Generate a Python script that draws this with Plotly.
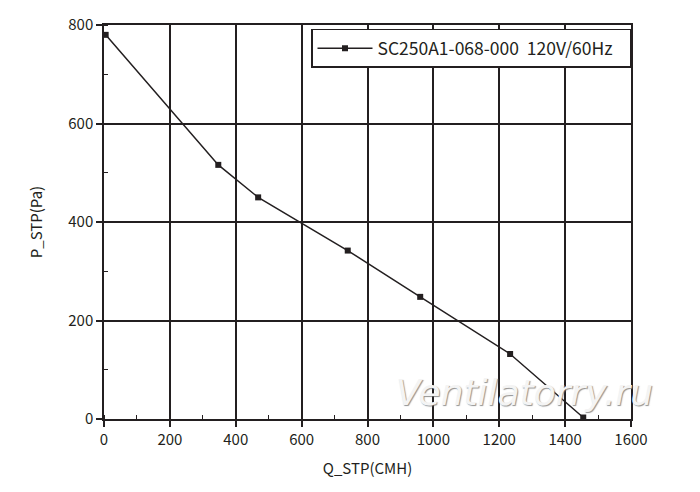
import plotly.graph_objects as go

q_cmh = [5, 347, 468, 740, 960, 1233, 1455]
p_pa = [780, 516, 450, 342, 248, 132, 3]
series_name = "SC250A1-068-000\u00a0\u00a0120V/60Hz\u00a0\u00a0\u00a0"
x_ticks = [0, 200, 400, 600, 800, 1000, 1200, 1400, 1600]
y_ticks = [0, 200, 400, 600, 800]

FONT = "Noto Sans CJK SC"
INK = "#231f20"

fig = go.Figure()
fig.add_trace(go.Scatter(
    x=q_cmh, y=p_pa, mode="lines+markers", name=series_name,
    line=dict(color=INK, width=1.5),
    marker=dict(symbol="square", size=6, color=INK),
))

fig.add_annotation(
    x=0.797, y=0.067, xref="paper", yref="paper", xanchor="center", yanchor="middle",
    text="Ventilatorry.ru", showarrow=False,
    font=dict(family="DejaVu Sans", size=36, color="#f4f4f4", style="italic",
              shadow="1px 1px 1px rgba(110,110,110,0.75)"),
)

axis_common = dict(
    showline=True, linecolor=INK, linewidth=1.5, mirror=True,
    showgrid=True, gridcolor=INK, gridwidth=1.8,
    ticks="outside", ticklen=6, tickwidth=1.5, tickcolor=INK,
    tickfont=dict(family=FONT, size=15, color=INK),
    zeroline=False, automargin=False,
)

fig.update_xaxes(
    range=[0, 1600], tickvals=x_ticks,
    title=dict(text="Q_STP(CMH)", font=dict(family=FONT, size=15, color=INK), standoff=16),
    minor=dict(ticks="inside", ticklen=4, tickwidth=1.2, tickcolor=INK, dtick=100, showgrid=False),
    **axis_common,
)
fig.update_yaxes(
    range=[0, 800], tickvals=y_ticks,
    title=dict(text="P_STP(Pa)", font=dict(family=FONT, size=15, color=INK), standoff=22),
    minor=dict(ticks="inside", ticklen=4, tickwidth=1.2, tickcolor=INK, dtick=100, showgrid=False),
    **axis_common,
)

fig.update_layout(
    width=700, height=492,
    margin=dict(l=96, r=77, t=17, b=81),
    paper_bgcolor="white", plot_bgcolor="white",
    showlegend=True,
    legend=dict(
        x=1.0, y=0.99, xanchor="right", yanchor="top",
        bgcolor="white", bordercolor=INK, borderwidth=1.5,
        font=dict(family=FONT, size=17.5, color=INK),
        itemwidth=55,
    ),
)

fig.write_html("out.html")
